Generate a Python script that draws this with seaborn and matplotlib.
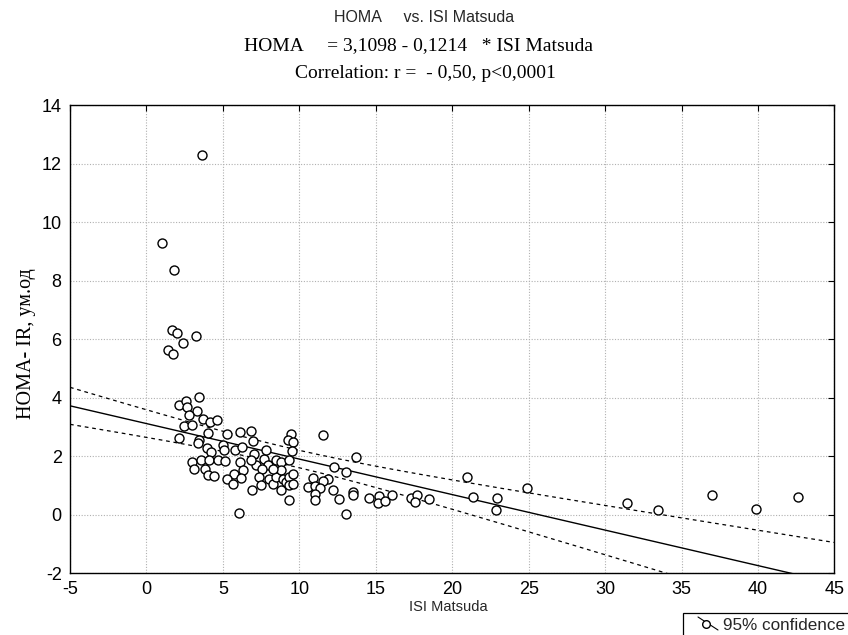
import matplotlib
matplotlib.use("Agg")
import matplotlib.pyplot as plt
import numpy as np
import pandas as pd
import seaborn as sns
from matplotlib.lines import Line2D
from matplotlib.patches import Rectangle

# ISI Matsuda (x) and HOMA-IR (y)
isi = [1.03, 1.78, 3.66, 1.68, 1.98, 3.22, 2.42, 1.42, 1.75,
       3.42, 2.11, 2.59, 2.66, 3.31, 2.81, 3.68, 4.18, 4.60, 2.44,
       2.96, 4.01, 2.16, 3.46, 3.40, 5.27, 6.14, 6.84, 6.99, 9.46,
       9.24, 9.61, 9.52, 4.99, 5.10, 5.82, 6.25, 3.97, 4.23, 7.06,
       7.67, 7.93, 8.47, 8.80, 9.30, 2.98, 3.57, 4.12, 4.66, 5.16,
       3.14, 3.86, 4.01, 4.40, 6.14, 6.34, 5.75, 6.19, 5.27, 5.64,
       6.91, 7.17, 7.54, 7.39, 7.49, 8.04, 8.26, 8.47, 8.80, 8.91,
       9.13, 9.35, 9.61, 9.30, 9.56, 8.80, 9.30, 6.08, 8.26, 6.84,
       7.82,
       11.52, 13.70, 12.24, 13.05, 10.87, 11.85, 11.57, 10.59, 11.05,
       11.35, 12.18, 11.05, 11.00, 12.57, 13.49, 13.49, 13.05, 14.58,
       15.19, 15.16, 15.60, 16.05, 17.30, 17.73, 17.58, 18.50, 21.00,
       21.37, 22.90, 22.85, 24.92,
       31.46, 33.44, 36.97, 39.88, 42.60]
homa = [9.27, 8.35, 12.29, 6.31, 6.20, 6.10, 5.86, 5.62, 5.48,
        4.02, 3.74, 3.87, 3.66, 3.53, 3.39, 3.28, 3.17, 3.22, 3.02,
        3.05, 2.79, 2.60, 2.54, 2.43, 2.77, 2.82, 2.86, 2.51, 2.77,
        2.56, 2.48, 2.16, 2.37, 2.20, 2.20, 2.31, 2.26, 2.14, 2.08,
        1.91, 1.69, 1.86, 1.80, 1.88, 1.80, 1.86, 1.88, 1.86, 1.83,
        1.57, 1.57, 1.34, 1.31, 1.80, 1.51, 1.40, 1.25, 1.20, 1.06,
        0.83, 1.69, 1.57, 1.29, 1.00, 1.23, 1.06, 1.29, 1.51, 1.23,
        1.12, 1.29, 1.40, 1.00, 1.06, 0.83, 0.49, 0.06, 1.57, 1.86,
        2.20,
        2.72, 1.98, 1.61, 1.46, 1.25, 1.22, 1.13, 0.93, 0.96,
        0.91, 0.85, 0.70, 0.48, 0.52, 0.76, 0.67, 0.02, 0.57,
        0.65, 0.39, 0.46, 0.67, 0.57, 0.66, 0.42, 0.52, 1.28,
        0.60, 0.57, 0.16, 0.89,
        0.40, 0.16, 0.68, 0.19, 0.61]

intercept = 3.1098
slope = -0.1214

x = np.array(isi)
y = np.array(homa)
n = len(x)

# regression line and 95% confidence band of the mean
grid = np.linspace(-5, 45, 200)
fit = intercept + slope * grid
resid = y - (intercept + slope * x)
s = np.sqrt(np.sum(resid ** 2) / (n - 2))
sxx = np.sum((x - x.mean()) ** 2)
half = 1.977 * s * np.sqrt(1 / n + (grid - x.mean()) ** 2 / sxx)
lines = pd.DataFrame({"x": grid, "fit": fit, "lo": fit - half, "hi": fit + half})

sns.set_style("white")
plt.rcParams["font.family"] = ["Liberation Sans", "DejaVu Sans"]
plt.rcParams["axes.unicode_minus"] = False
serif = ["Liberation Serif", "DejaVu Serif"]

fig = plt.figure(figsize=(8.48, 6.35), dpi=100)
ax = fig.add_axes([0.0825, 0.0976, 0.9015, 0.737])

ax.grid(True, color="#b0b0b0", linestyle=(0, (1, 1.5)), linewidth=0.8)
ax.set_axisbelow(True)

sns.lineplot(data=lines, x="x", y="fit", ax=ax, color="black", linewidth=1.0)
sns.lineplot(data=lines, x="x", y="lo", ax=ax, color="black", linewidth=0.9, linestyle=(0, (3, 3)))
sns.lineplot(data=lines, x="x", y="hi", ax=ax, color="black", linewidth=0.9, linestyle=(0, (3, 3)))
sns.scatterplot(x=x, y=y, ax=ax, s=42, facecolor="white", edgecolor="black", linewidth=1.0, zorder=3)

ax.set_xlim(-5, 45)
ax.set_ylim(-2, 14)
ax.set_xticks(np.arange(-5, 46, 5))
ax.set_yticks(np.arange(-2, 15, 2))
ax.tick_params(direction="in", top=True, right=True, length=4, width=0.8, labelsize=13, colors="black")
ax.tick_params(axis="x", pad=6)
ax.tick_params(axis="y", pad=6)
for sp in ax.spines.values():
    sp.set_color("black")
    sp.set_linewidth(1.0)

ax.set_xlabel("ISI Matsuda", fontsize=10.5)
ax.xaxis.set_label_coords(0.495, -0.058)
ax.set_ylabel("HOMA- IR, ум.од", fontsize=14.5, family=serif, color="black")
ax.yaxis.set_label_coords(-0.045, 0.49)

fig.text(0.5, 1 - 17 / 635, "HOMA     vs. ISI Matsuda", ha="center", va="center", fontsize=11.5)
fig.text(0.494, 1 - 46 / 635, "HOMA     = 3,1098 - 0,1214   * ISI Matsuda", ha="center", va="center",
         fontsize=14, family=serif, color="black")
fig.text(0.502, 1 - 73 / 635, "Correlation: r =  - 0,50, p<0,0001", ha="center", va="center",
         fontsize=14, family=serif, color="black")

# legend box at the bottom right, cut by the figure edge
fig.add_artist(Rectangle((683 / 848, -0.02), 0.2, 1 - 613 / 635 + 0.02, transform=fig.transFigure,
                         facecolor="white", edgecolor="black", linewidth=0.9))
fig.add_artist(Line2D([698 / 848, 718 / 848], [1 - 617 / 635, 1 - 630 / 635], transform=fig.transFigure,
                      color="black", linewidth=0.8))
fig.add_artist(Line2D([706 / 848], [1 - 624 / 635], transform=fig.transFigure, marker="o",
                      markersize=5.5, markerfacecolor="white", markeredgecolor="black", linestyle="none"))
fig.text(723 / 848, 1 - 626 / 635, "95% confidence", ha="left", va="center", fontsize=12.3)

fig.savefig("out.png", dpi=100)
